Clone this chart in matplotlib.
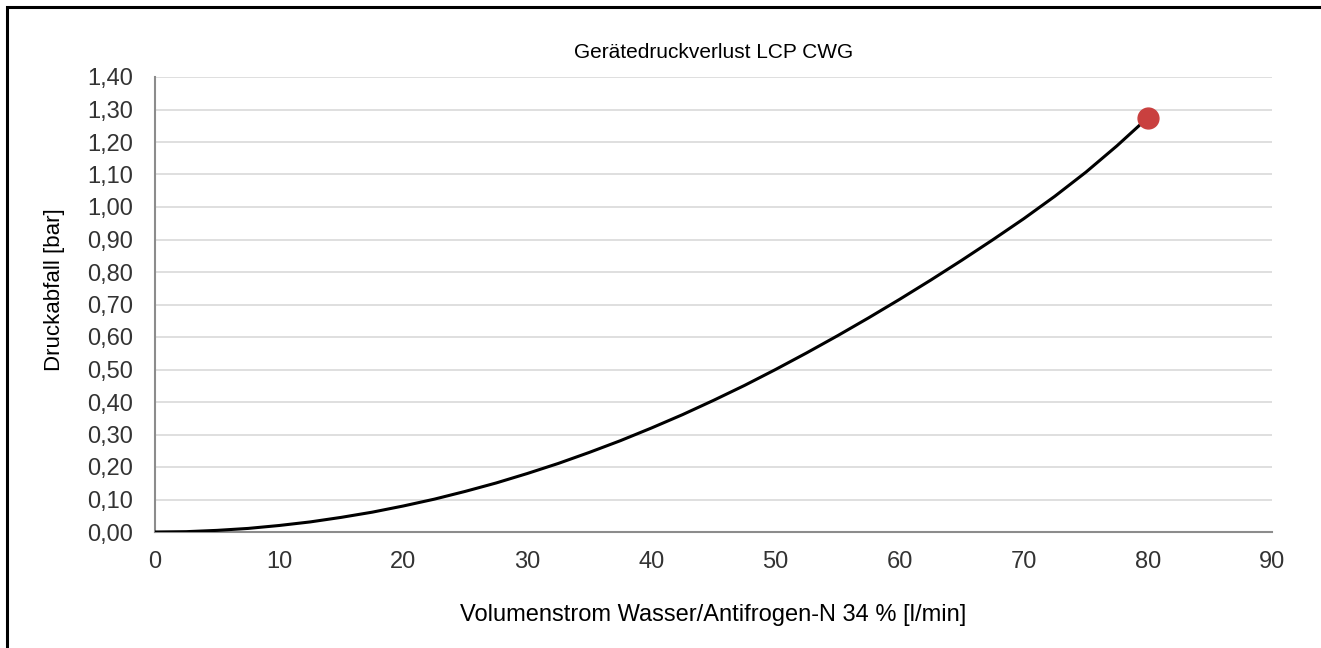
import matplotlib
matplotlib.use("Agg")
import matplotlib.pyplot as plt
from matplotlib.patches import Rectangle

# Volumenstrom [l/min] and pressure drop [bar]
flow = [0, 2.5, 5, 7.5, 10, 12.5, 15, 17.5, 20, 22.5, 25, 27.5, 30, 32.5, 35, 37.5,
        40, 42.5, 45, 47.5, 50, 52.5, 55, 57.5, 60, 62.5, 65, 67.5, 70, 72.5, 75, 77.5, 80]
drop = [0.0, 0.001, 0.005, 0.011, 0.02, 0.031, 0.045, 0.061, 0.08, 0.101, 0.125, 0.151,
        0.18, 0.211, 0.245, 0.281, 0.32, 0.361, 0.405, 0.451, 0.50, 0.551, 0.604, 0.659,
        0.716, 0.775, 0.836, 0.899, 0.964, 1.033, 1.107, 1.188, 1.275]

# operating point
op_flow = 80
op_drop = 1.275

x_ticks = list(range(0, 91, 10))
y_ticks = [i / 10 for i in range(0, 15)]

plt.rcParams['font.family'] = ['Liberation Sans', 'DejaVu Sans']

fig = plt.figure(figsize=(13.21, 6.48), dpi=100)
ax = fig.add_axes([155 / 1321, 1 - 532 / 648, (1272 - 155) / 1321, (532 - 77) / 648])

ax.plot(flow, drop, color='black', lw=2.2, zorder=3,
        solid_joinstyle='round', solid_capstyle='round')
ax.plot(op_flow, op_drop, 'o', color='#c9403f', ms=15, zorder=4)

ax.set_xlim(0, 90)
ax.set_ylim(0, 1.4)
ax.set_xticks(x_ticks)
ax.set_yticks(y_ticks)
ax.set_yticklabels([f"{v:.2f}".replace('.', ',') for v in y_ticks])
ax.grid(axis='y', color='#d9d9d9', lw=1.2)
ax.set_axisbelow(True)
for side in ['top', 'right']:
    ax.spines[side].set_visible(False)
for side in ['left', 'bottom']:
    ax.spines[side].set_color('#8c8c8c')
    ax.spines[side].set_linewidth(1.5)

ax.tick_params(length=0, colors='#333333', labelsize=17)
ax.tick_params(axis='x', pad=14)
ax.tick_params(axis='y', pad=16)

ax.set_title("Gerätedruckverlust LCP CWG", fontsize=15, pad=14)
ax.set_xlabel("Volumenstrom Wasser/Antifrogen-N 34 % [l/min]", fontsize=17, labelpad=22)
ax.set_ylabel("Druckabfall [bar]", fontsize=16, labelpad=16, y=0.532)

# outer frame, running past the right and bottom edge
fig.patches.append(Rectangle((7 / 1321, -10 / 648), 1330 / 1321, 651 / 648,
                             transform=fig.transFigure, fill=False,
                             edgecolor='black', lw=2.2))

fig.savefig("out.png", dpi=100)
